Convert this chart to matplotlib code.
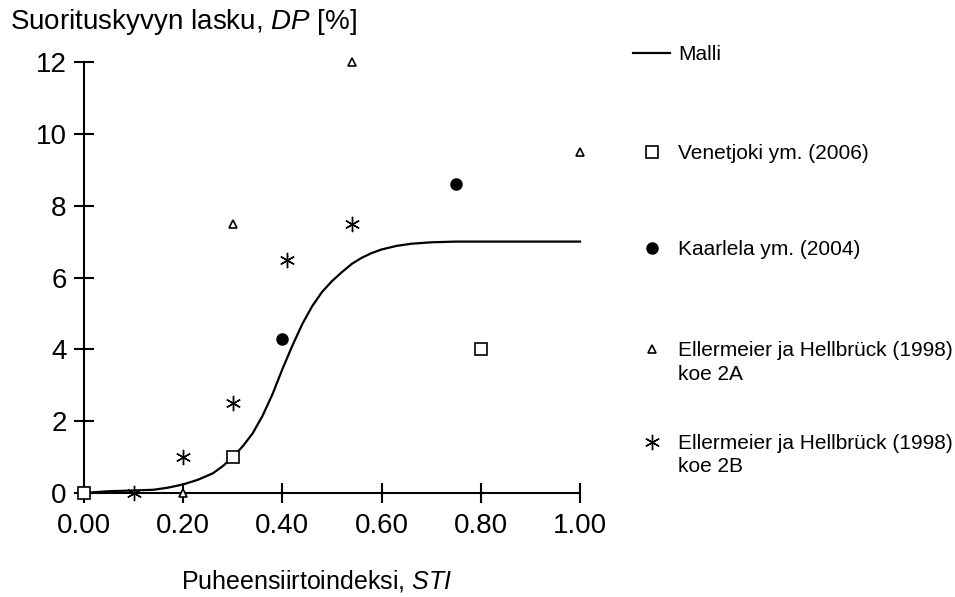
import numpy as np
import matplotlib
matplotlib.use("Agg")
import matplotlib.pyplot as plt

plt.rcParams["font.family"] = ["Liberation Sans", "DejaVu Sans"]
plt.rcParams["mathtext.fontset"] = "custom"
plt.rcParams["mathtext.rm"] = "Liberation Sans"
plt.rcParams["mathtext.it"] = "Liberation Sans:italic"

# model curve (Malli)
model_sti = [0.0, 0.05, 0.10, 0.14, 0.17, 0.20, 0.23, 0.26, 0.28, 0.30, 0.32,
             0.34, 0.36, 0.38, 0.40, 0.42, 0.44, 0.46, 0.48, 0.50, 0.52, 0.54,
             0.56, 0.58, 0.60, 0.63, 0.66, 0.70, 0.75, 0.80, 0.90, 1.0]
model_dp = [0.0, 0.05, 0.07, 0.09, 0.15, 0.24, 0.37, 0.55, 0.75, 1.0, 1.3,
            1.66, 2.15, 2.75, 3.45, 4.1, 4.7, 5.2, 5.6, 5.9, 6.15, 6.38,
            6.55, 6.68, 6.78, 6.88, 6.94, 6.98, 7.0, 7.0, 7.0, 7.0]

# measurement series
venetjoki_sti = [0.0, 0.3, 0.8]
venetjoki_dp = [0.0, 1.0, 4.0]

kaarlela_sti = [0.4, 0.75]
kaarlela_dp = [4.3, 8.6]

eh2a_sti = [0.2, 0.3, 0.54, 1.0]
eh2a_dp = [0.0, 7.5, 12.0, 9.5]

eh2b_sti = [0.1, 0.2, 0.3, 0.41, 0.54]
eh2b_dp = [0.0, 1.0, 2.5, 6.5, 7.5]

legend_labels = ["Malli", "Venetjoki ym. (2006)", "Kaarlela ym. (2004)",
                 "Ellermeier ja Hellbrück (1998)\nkoe 2A",
                 "Ellermeier ja Hellbrück (1998)\nkoe 2B"]

x_ticks = [0.0, 0.2, 0.4, 0.6, 0.8, 1.0]
y_ticks = [0, 2, 4, 6, 8, 10, 12]

W, H = 955, 597
fig = plt.figure(figsize=(W / 100, H / 100), dpi=100)
ax = fig.add_axes([84 / W, 1 - 493 / H, (580 - 84) / W, (493 - 62) / H])

styles = [
    dict(marker="s", ms=8, mfc="white", mec="black", mew=1.2, ls="none"),
    dict(marker="o", ms=8, mfc="black", mec="black", ls="none"),
    dict(marker="^", ms=5.5, mfc="white", mec="black", mew=1.2, ls="none"),
    dict(marker=(6, 2, 0), ms=11, mec="black", mew=1.0, ls="none"),
]

ax.plot(model_sti, model_dp, color="black", lw=1.6, zorder=2, clip_on=False)
series = [(venetjoki_sti, venetjoki_dp), (kaarlela_sti, kaarlela_dp),
          (eh2a_sti, eh2a_dp), (eh2b_sti, eh2b_dp)]
for (xs, ys), st in zip(series, styles):
    ax.plot(xs, ys, clip_on=False, zorder=3, **st)

ax.set_xlim(0, 1)
ax.set_ylim(0, 12)
ax.set_xticks(x_ticks)
ax.set_xticklabels([f"{v:.2f}" for v in x_ticks])
ax.set_yticks(y_ticks)
for s in ["top", "right"]:
    ax.spines[s].set_visible(False)
for s in ["left", "bottom"]:
    ax.spines[s].set_linewidth(1.5)
ax.tick_params(direction="inout", length=15, width=1.5, labelsize=20, pad=5)
ax.tick_params(axis="x", pad=7)
ax.set_xlabel("Puheensiirtoindeksi, $STI$", fontsize=18, labelpad=8)
ax.xaxis.set_label_coords(0.47, -0.175)

fig.text(10 / W, 1 - 22 / H, "Suorituskyvyn lasku, $DP$ [%]", fontsize=20,
         ha="left", va="center")

# legend drawn in a pixel-coordinate overlay
lg = fig.add_axes([0, 0, 1, 1], facecolor="none")
lg.set_xlim(0, W)
lg.set_ylim(H, 0)
lg.axis("off")
rows = [53, 152, 248, 349, 442]
lg.plot([633, 670], [rows[0], rows[0]], color="black", lw=1.6)
for y, st in zip(rows[1:], styles):
    lg.plot([652], [y], **st)
for y, lab in zip(rows, legend_labels):
    lg.text(678, y - 8, lab, fontsize=15, ha="left", va="top", linespacing=1.3)

fig.savefig("out.png", dpi=100)
